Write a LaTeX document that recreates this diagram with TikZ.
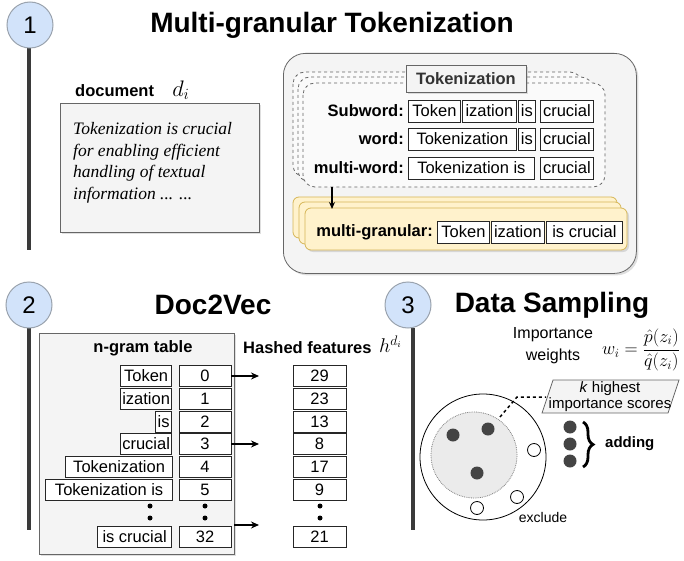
\documentclass[tikz,border=0pt]{standalone}
\usepackage{fontspec}
\setmainfont{Liberation Serif}
\newfontfamily\arial{Liberation Sans}
\usetikzlibrary{decorations.pathreplacing,arrows.meta,shadows}
\definecolor{circfill}{HTML}{D2E3FA}
\definecolor{circline}{HTML}{9AA3AE}
\definecolor{vline}{HTML}{3A3A3A}
\definecolor{panel}{HTML}{F4F4F4}
\definecolor{innerfill}{HTML}{EBEBEB}
\definecolor{panelline}{HTML}{666666}
\definecolor{yfill}{HTML}{FFF2CC}
\definecolor{yline}{HTML}{D6B656}
\definecolor{dotc}{HTML}{444444}
\newcommand{\fsz}[1]{\fontsize{#1}{#1}\selectfont}
\tikzset{
  numcirc/.style={circle, draw=circline, fill=circfill, line width=1pt, minimum size=46pt, inner sep=0pt, font=\arial\fsz{24}},
  vbar/.style={draw=vline, line width=4pt},
  ttl/.style={font=\arial\bfseries\fsz{28}, inner sep=0pt},
  lbl/.style={font=\arial\bfseries\fsz{16.5}, inner sep=0pt},
  txt/.style={font=\arial\fsz{16}, inner sep=0pt},
  mathlbl/.style={inner sep=0pt, font=\fsz{17}},
  tok/.style={draw=black!85, fill=white, line width=0.8pt, inner xsep=1pt, inner ysep=0pt, minimum height=22pt, font=\arial\fsz{16.5}, anchor=west},
  cell/.style={draw=black!85, fill=white, line width=0.8pt, inner xsep=1pt, inner ysep=0pt, minimum height=21pt, font=\arial\fsz{16.5}},
  arr/.style={-{Stealth[length=8pt,width=7pt]}, line width=1.8pt, black},
  dashbox/.style={draw=black!60, dashed, fill=white!98!black, line width=0.8pt, rounded corners=12pt},
  ybox/.style={draw=yline, fill=yfill, line width=0.8pt, rounded corners=6pt},
  bigdot/.style={circle, fill=dotc, inner sep=0pt, minimum size=13pt},
  wdot/.style={circle, draw=black, fill=white, line width=0.8pt, inner sep=0pt, minimum size=13pt},
  smalldot/.style={circle, fill=black, inner sep=0pt, minimum size=5pt},
  shadowed/.style={drop shadow={opacity=0.25, shadow xshift=2pt, shadow yshift=-2pt}},
}
\begin{document}
\begin{tikzpicture}[x=1pt,y=-1pt]
\useasboundingbox (0,0) rectangle (684,561);

% ===== Section 1 =====
\draw[vbar] (29,48) -- (29,250);
\node[numcirc] (c1) at (30,25) {1};
\node[ttl] (t1) at (332,25) {Multi-granular Tokenization};

\node[lbl, anchor=west] (doclbl) at (75,91) {document};
\node[mathlbl, anchor=west, scale=1.3] (di) at (172,90) {$d_i$};
\node[draw=panelline, fill=panel, line width=0.8pt, minimum width=199pt, minimum height=129pt, anchor=north west, shadowed] (docbox) at (60,103) {};
\node[anchor=north west, inner sep=0pt, align=left, font=\itshape\fontsize{17.5}{21.8}\selectfont] (doctext) at (73,122)
  {Tokenization is crucial\\for enabling efficient\\handling of textual\\information ... ...};

% big rounded panel
\node[draw=panelline, fill=panel, line width=0.8pt, rounded corners=22pt, minimum width=353pt, minimum height=220pt, anchor=north west, shadowed] (bigbox) at (283,53) {};

% dashed stack
\draw[dashbox] (293,72) rectangle (582,177);
\draw[dashbox] (298,77) rectangle (593,182);
\draw[dashbox] (303,83) rectangle (605,187);
\node[draw=panelline, fill=panel, line width=0.8pt, minimum width=120pt, minimum height=27pt, font=\arial\bfseries\fsz{16.5}, text=black!80, shadowed] (tokhdr) at (466,78.5) {Tokenization};

% rows
\node[lbl, anchor=east] (l1) at (404,111) {Subword:};
\node[tok, minimum width=52pt] (s1) at (408,111) {Token};
\node[tok, minimum width=54pt] (s2) at (462,111) {ization};
\node[tok, minimum width=17pt] (s3) at (518,111) {is};
\node[tok, minimum width=53pt] (s4) at (540,111) {crucial};

\node[lbl, anchor=east] (l2) at (404,139) {word:};
\node[tok, minimum width=108pt] (w1) at (408,139) {Tokenization};
\node[tok, minimum width=17pt] (w2) at (518,139) {is};
\node[tok, minimum width=53pt] (w3) at (540,139) {crucial};

\node[lbl, anchor=east] (l3) at (404,168) {multi-word:};
\node[tok, minimum width=126pt] (m1) at (408,168) {Tokenization is};
\node[tok, minimum width=53pt] (m2) at (540,168) {crucial};

% yellow stack
\draw[ybox] (293,197) rectangle (617,238);
\draw[ybox] (299,202) rectangle (621,244);
\draw[ybox, shadowed] (305,208) rectangle (627,250);
\coordinate (arrS) at (332,187);
\coordinate (arrE) at (332,209);
\draw[-{Stealth[length=7pt,width=6pt]}, line width=1.5pt] (arrS) -- (arrE);

\node[lbl, anchor=east] (l4) at (433,232) {multi-granular:};
\node[tok, minimum width=52pt] (g1) at (437,232) {Token};
\node[tok, minimum width=53pt] (g2) at (491,232) {ization};
\node[tok, minimum width=76pt] (g3) at (546,232) {is crucial};

% ===== Section 2 =====
\draw[vbar] (29,328) -- (29,530);
\node[numcirc] (c2) at (29,305) {2};
\node[ttl] (t2) at (213,305) {Doc2Vec};

\node[draw=panelline, fill=panel, line width=0.8pt, minimum width=195pt, minimum height=221pt, anchor=north west, shadowed] (tablebox) at (39,333) {};
\node[lbl] (ngl) at (143,348) {n-gram table};
\node[lbl, anchor=west] (hfl) at (243,348) {Hashed features};
\node[mathlbl, anchor=west, scale=1.15] (hdi) at (379,344) {$h^{d_i}$};

% n-gram column
\node[cell, anchor=east, minimum width=51pt] (n0) at (172,376) {Token};
\node[cell, anchor=east, minimum width=51pt] (n1) at (172,399) {ization};
\node[cell, anchor=east, minimum width=16pt] (n2) at (172,422) {is};
\node[cell, anchor=east, minimum width=51pt] (n3) at (172,444) {crucial};
\node[cell, anchor=east, minimum width=107pt] (n4) at (173,467) {Tokenization};
\node[cell, anchor=east, minimum width=127pt] (n5) at (173,490) {Tokenization is};
\node[cell, anchor=east, minimum width=74pt] (n6) at (172,537) {is crucial};

% index column
\foreach \v/\y/\n in {0/376/i0, 1/399/i1, 2/422/i2, 3/444/i3, 4/467/i4, 5/490/i5, 32/537/i6}
  \node[cell, minimum width=52pt] (\n) at (205,\y) {\v};
% hashed column
\foreach \v/\y/\n in {29/376/h0, 23/399/h1, 13/422/h2, 8/444/h3, 17/467/h4, 9/490/h5, 21/537/h6}
  \node[cell, minimum width=53pt] (\n) at (319.5,\y) {\v};

% dots
\foreach \x/\nm in {150/a, 205/b, 320/c}{
  \node[smalldot] (d\nm1) at (\x,506) {};
  \node[smalldot] (d\nm2) at (\x,518) {};
}

% arrows
\coordinate (e0) at (259,376);
\coordinate (e3) at (259,444);
\coordinate (s6) at (234,525);
\coordinate (e6) at (259,525);
\draw[arr] (i0.east) -- (e0);
\draw[arr] (i3.east) -- (e3);
\draw[arr] (s6) -- (e6);

% ===== Section 3 =====
\draw[vbar] (413,328) -- (413,530);
\node[numcirc] (c3) at (408,305) {3};
\node[ttl] (t3) at (552,305) {Data Sampling};

\node[txt] (imp1) at (553,335) {Importance};
\node[txt] (imp2) at (553,356) {weights};
\node[mathlbl, scale=1.05] (wform) at (641,350) {$\displaystyle w_i=\frac{\hat{p}(z_i)}{\hat{q}(z_i)}$};

% parallelogram
\draw[draw=panelline, fill=panel, line width=0.8pt] (542,413) -- (553,380) -- (679,380) -- (668,413) -- cycle;
\node[txt, font=\arial\fsz{15}] (kh1) at (610,389) {\textit{k} highest};
\node[txt, font=\arial\fsz{15}] (kh2) at (610,405) {importance scores};

% circles
\node[circle, draw=black, line width=0.8pt, fill=white, minimum size=126pt, inner sep=0pt] (outer) at (483,457) {};
\node[circle, draw=black!50, densely dotted, line width=0.8pt, fill=innerfill, minimum size=86pt, inner sep=0pt] (inner) at (474,455) {};
\node[bigdot] (b1) at (453,435) {};
\node[bigdot] (b2) at (488,429) {};
\node[bigdot] (b3) at (477,473) {};
\node[wdot] (o1) at (534,450) {};
\node[wdot] (o2) at (517,497) {};
\node[wdot] (o3) at (477,508) {};
\node[txt, font=\arial\fsz{14}] (excl) at (543,517) {exclude};

% dashed pointer
\coordinate (p0) at (500,417);
\coordinate (p1) at (517,397);
\coordinate (p2) at (546,397);
\draw[dashed, line width=1.5pt] (p0) -- (p1) -- (p2);

% adding
\node[bigdot] (a1) at (570,427) {};
\node[bigdot] (a2) at (570,444) {};
\node[bigdot] (a3) at (570,461) {};
\coordinate (br0) at (583,422);
\coordinate (br1) at (583,467);
\draw[decorate, decoration={brace, amplitude=10pt}, line width=2.8pt] (br0) -- (br1);
\node[lbl, font=\arial\bfseries\fsz{15}, anchor=west] (addl) at (605,444) {adding};
\end{tikzpicture}
\end{document}
